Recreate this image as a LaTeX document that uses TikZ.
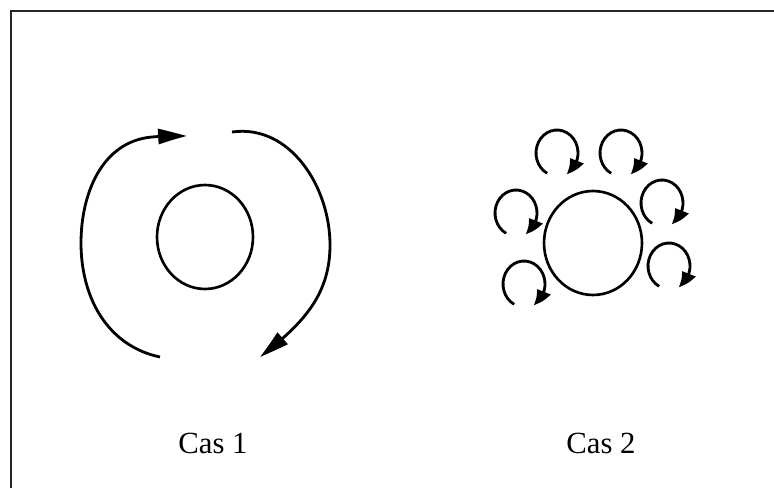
\documentclass[tikz,border=0pt]{standalone}
\usepackage{fontspec}
\setmainfont{Liberation Serif}
\usetikzlibrary{arrows.meta, bending, shapes.geometric}

\tikzset{
    frame/.style={line width=1.3pt, draw=black!85},
    core/.style={ellipse, draw, line width=1.5pt, inner sep=0pt},
    bigflow/.style={line width=1.6pt, -{Triangle[length=6mm, width=3mm, bend]}},
    curl/.style={line width=1.6pt, -{Triangle[length=3.4mm, width=2.8mm, bend]}},
    caslabel/.style={anchor=base, font=\fontsize{17.5}{20}\selectfont}
}

\begin{document}
\begin{tikzpicture}[x=0.02cm, y=0.02cm]

    \useasboundingbox (0,0) rectangle (774,488);

    % cadre
    \draw[frame] (11,0) -- (11,477) -- (774,477);

    % Cas 1
    \node[core, minimum width=1.92cm, minimum height=2.08cm] (core1) at (205,251) {};
    \draw[bigflow] (160,131) to[out=168, in=-90] (81,245) to[out=90, in=185] (152,351) to[out=5, in=180] (187,352);
    \draw[bigflow] (232,356) to[out=8, in=90] (330,243) to[out=-90, in=38] (260,131);

    % Cas 2
    \node[core, minimum width=1.96cm, minimum height=2.08cm] (core2) at (593,245) {};
    \foreach \cx/\cy in {557/335, 621/335, 516/275, 662/285, 524/204, 669/222}{
        \draw[curl] ([shift={(242:21 and 23)}]\cx,\cy) arc[start angle=242, end angle=-64, x radius=21, y radius=23];
    }

    \node[caslabel] (cas1) at (213,35) {Cas 1};
    \node[caslabel] (cas2) at (601,35) {Cas 2};

\end{tikzpicture}
\end{document}
